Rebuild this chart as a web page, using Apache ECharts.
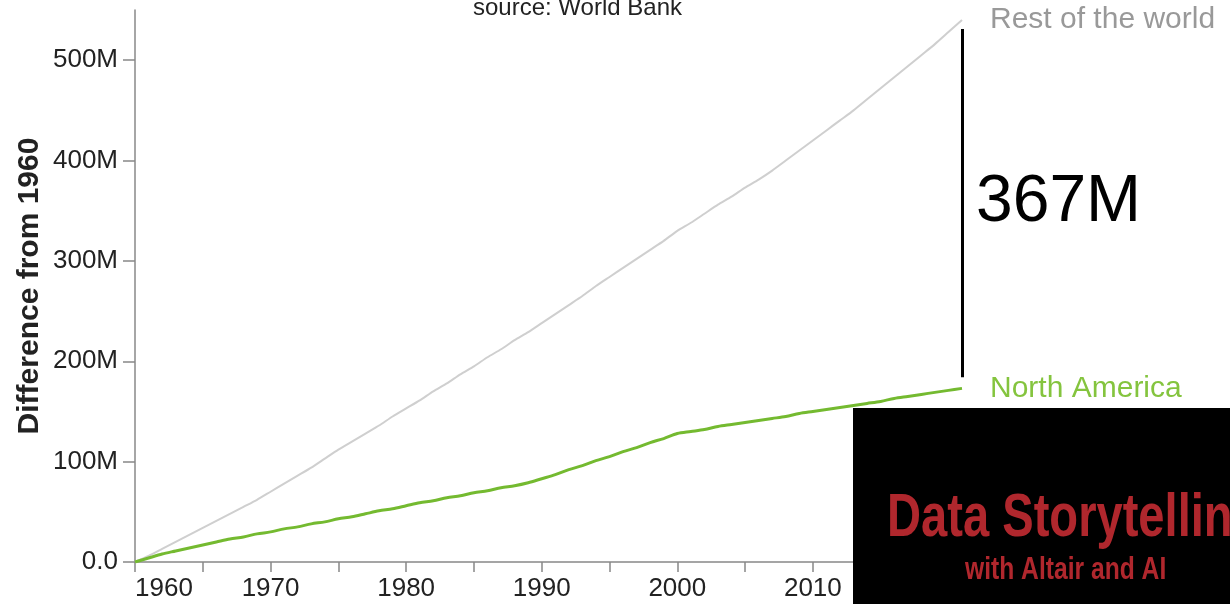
<!DOCTYPE html>
<html>
<head>
<meta charset="utf-8">
<script src="https://cdn.jsdelivr.net/npm/echarts@6/dist/echarts.min.js"></script>
<style>
  html, body { margin: 0; padding: 0; background: #fff; }
  #chart { width: 1230px; height: 604px; }
</style>
</head>
<body>
<div id="chart"></div>
<script>
// 年份
var firstYear = 1960, lastYear = 2021;
var years = [];
for (var y = firstYear; y <= lastYear; y++) years.push(y);

// 与1960年相比的人口差（百万）
var restOfWorld = [
    0, 6, 13, 20, 27, 34, 41, 48, 55, 62,
    70, 78, 86, 94, 103, 112, 120, 128, 136, 145,
    153, 161, 170, 178, 187, 195, 204, 212, 221, 229,
    238, 247, 256, 265, 275, 284, 293, 302, 311, 320,
    330, 338, 347, 356, 364, 373, 381, 390, 400, 410,
    420, 430, 440, 450, 461, 472, 483, 494, 505, 516,
    528, 540
];
var northAmerica = [
    0, 4, 8, 11, 14, 17, 20, 23, 25, 28,
    30, 33, 35, 38, 40, 43, 45, 48, 51, 53,
    56, 59, 61, 64, 66, 69, 71, 74, 76, 79,
    83, 87, 92, 96, 101, 105, 110, 114, 119, 123,
    128, 130, 132, 135, 137, 139, 141, 143, 145, 148,
    150, 152, 154, 156, 158, 160, 163, 165, 167, 169,
    171, 173
];

// 刻度
var yTicks = [0, 100, 200, 300, 400, 500];
var xTicks = [1960, 1965, 1970, 1975, 1980, 1985, 1990, 1995, 2000, 2005, 2010, 2015, 2020];
var xLabels = [1960, 1970, 1980, 1990, 2000, 2010, 2020];

// 差值标注的竖线范围
var ruleRange = [531, 184];

function pairs(vals) {
    return years.map(function (yr, i) { return [yr, vals[i]]; });
}

var gap = restOfWorld[restOfWorld.length - 1] - northAmerica[northAmerica.length - 1];

var chart = echarts.init(document.getElementById('chart'));
var option = {
    animation: false,
    backgroundColor: '#fff',
    title: {
        text: 'source: World Bank',
        left: 468,
        top: -9,
        textStyle: {
            fontFamily: 'Liberation Sans',
            fontSize: 24,
            fontWeight: 'normal',
            color: '#222'
        }
    },
    grid: {
        left: 135,
        right: 268,
        top: 10,
        bottom: 42
    },
    xAxis: {
        type: 'value',
        min: firstYear,
        max: lastYear,
        interval: 5,
        splitLine: { show: false },
        axisLine: { lineStyle: { color: '#888', width: 1.5 } },
        axisTick: {
            customValues: xTicks,
            length: 10,
            lineStyle: { color: '#888', width: 1.5 }
        },
        axisLabel: {
            customValues: xLabels,
            alignMinLabel: 'left',
            margin: 14,
            fontFamily: 'Liberation Sans',
            fontSize: 26,
            color: '#222',
            formatter: function (v) { return String(v); }
        }
    },
    yAxis: {
        type: 'value',
        min: 0,
        max: 550,
        name: 'Difference from 1960',
        nameLocation: 'middle',
        nameRotate: 90,
        nameGap: 90,
        nameMoveOverlap: false,
        nameTextStyle: {
            fontFamily: 'Liberation Sans',
            fontSize: 30,
            fontWeight: 'bold',
            color: '#222'
        },
        splitLine: { show: false },
        axisLine: { show: true, lineStyle: { color: '#888', width: 1.5 } },
        axisTick: {
            show: true,
            customValues: yTicks,
            length: 12,
            lineStyle: { color: '#888', width: 1.5 }
        },
        axisLabel: {
            customValues: yTicks,
            margin: 17,
            fontFamily: 'Liberation Sans',
            fontSize: 26,
            color: '#222',
            formatter: function (v) { return v === 0 ? '0.0' : v + 'M'; }
        }
    },
    series: [
        {
            name: 'Rest of the world',
            type: 'line',
            data: pairs(restOfWorld),
            showSymbol: false,
            smooth: 0.2,
            lineStyle: { color: '#cfcfcf', width: 2 },
            itemStyle: { color: '#cfcfcf' },
            endLabel: {
                show: true,
                formatter: '{a}',
                distance: 28,
                fontFamily: 'Liberation Sans',
                fontSize: 30,
                color: '#999'
            },
            markLine: {
                silent: true,
                symbol: 'none',
                label: { show: false },
                lineStyle: { color: '#000', width: 3, type: 'solid' },
                data: [[
                    { coord: [lastYear, ruleRange[0]] },
                    { coord: [lastYear, ruleRange[1]] }
                ]]
            }
        },
        {
            name: 'North America',
            type: 'line',
            data: pairs(northAmerica),
            showSymbol: false,
            smooth: 0.3,
            lineStyle: { color: '#74ba30', width: 3 },
            itemStyle: { color: '#74ba30' },
            endLabel: {
                show: true,
                formatter: '{a}',
                distance: 28,
                fontFamily: 'Liberation Sans',
                fontSize: 30,
                color: '#84c43e'
            },
            markPoint: {
                silent: true,
                symbol: 'circle',
                symbolSize: 0,
                label: {
                    show: true,
                    position: 'right',
                    distance: 14,
                    formatter: gap + 'M',
                    fontFamily: 'Liberation Sans',
                    fontSize: 66,
                    color: '#000'
                },
                data: [{ coord: [lastYear, (ruleRange[0] + ruleRange[1]) / 2] }]
            }
        }
    ],
    //  右下角书名
    graphic: [
        {
            type: 'rect',
            left: 853,
            top: 408,
            zlevel: 2,
            z: 100,
            shape: { width: 377, height: 196 },
            style: { fill: '#000' }
        },
        {
            type: 'text',
            x: 887,
            y: 519,
            scaleX: 0.76,
            zlevel: 2,
            z: 101,
            style: {
                text: 'Data Storytelling',
                fill: '#b0272d',
                font: 'bold 62px "Liberation Sans", sans-serif',
                verticalAlign: 'middle'
            }
        },
        {
            type: 'text',
            x: 965,
            y: 570,
            scaleX: 0.77,
            zlevel: 2,
            z: 101,
            style: {
                text: 'with Altair and AI',
                fill: '#b0272d',
                font: 'bold 32px "Liberation Sans", sans-serif',
                verticalAlign: 'middle'
            }
        }
    ]
};
chart.setOption(option);

window.addEventListener('resize', function () {
    chart.resize();
});
</script>
</body>
</html>
